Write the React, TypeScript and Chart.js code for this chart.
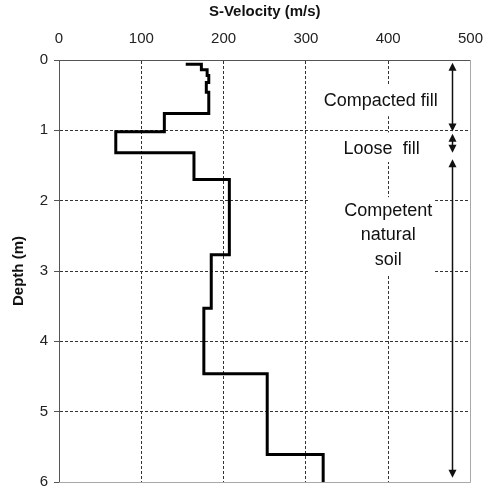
import React, { useEffect, useRef } from "react";
import { Chart, registerables } from "chart.js";

Chart.register(...registerables);

// ---- data ----
const velocityTicks = [0, 100, 200, 300, 400, 500];
const depthTicks = [0, 1, 2, 3, 4, 5, 6];

// S-wave velocity profile (vertices of the stepped line)
const profileVelocity = [154, 173, 173, 180, 180, 182, 182, 179, 179, 182, 182, 128, 128, 69, 69, 164, 164, 207, 207, 185, 185, 176, 176, 253, 253, 321, 321];
const profileDepth = [0.06, 0.06, 0.14, 0.14, 0.22, 0.22, 0.32, 0.32, 0.46, 0.46, 0.76, 0.76, 1.02, 1.02, 1.32, 1.32, 1.70, 1.70, 2.77, 2.77, 3.53, 3.53, 4.46, 4.46, 5.61, 5.61, 6.0];

// soil layers
const layerNames = [["Compacted fill"], ["Loose  fill"], ["Competent", "natural", "soil"]];
const layerTop = [0.04, 1.05, 1.41];
const layerBottom = [1.015, 1.32, 5.94];
const arrowVelocity = 478;

// label anchors (velocity, depth of first baseline)
const labelVelocity = [391, 392, 400];
const labelDepth = [0.654, 1.336, 2.217];

// white boxes behind labels (velocity range, depth range)
const labelBoxes = [
  { v0: 310, v1: 472, d0: 0.35, d1: 0.8 },
  { v0: 340, v1: 455, d0: 1.03, d1: 1.45 },
  { v0: 305, v1: 457, d0: 1.95, d1: 3.05 },
];

const FONT = '"Liberation Sans", Arial, sans-serif';
const W = 495;
const H = 497;

const layerPlugin = {
  id: "layerPlugin",
  afterDatasetsDraw(chart: any) {
    const { ctx, scales } = chart;
    const x = scales.x;
    const y = scales.y;
    ctx.save();

    // right and bottom frame
    const xr = Math.round(x.getPixelForValue(500)) + 0.5;
    const yb = Math.round(y.getPixelForValue(6)) + 0.5;
    const xl = x.getPixelForValue(0);
    const yt = y.getPixelForValue(0);
    ctx.strokeStyle = "#a8a8a8";
    ctx.lineWidth = 1;
    ctx.beginPath();
    ctx.moveTo(xr, yt);
    ctx.lineTo(xr, yb);
    ctx.lineTo(xl, yb);
    ctx.stroke();

    // label boxes
    ctx.fillStyle = "#ffffff";
    labelBoxes.forEach((b) => {
      const px0 = x.getPixelForValue(b.v0);
      const px1 = x.getPixelForValue(b.v1);
      const py0 = y.getPixelForValue(b.d0);
      const py1 = y.getPixelForValue(b.d1);
      ctx.fillRect(px0, py0, px1 - px0, py1 - py0);
    });

    // labels
    ctx.font = `18px ${FONT}`;
    ctx.fillStyle = "#111111";
    ctx.textAlign = "center";
    ctx.textBaseline = "alphabetic";
    layerNames.forEach((lines, i) => {
      const px = x.getPixelForValue(labelVelocity[i]);
      const py = y.getPixelForValue(labelDepth[i]);
      lines.forEach((t, j) => ctx.fillText(t, px, py + j * 24.5));
    });

    // arrows
    const ax = Math.round(x.getPixelForValue(arrowVelocity)) + 0.5;
    const hw = 4;
    const hh = 8;
    ctx.strokeStyle = "#111111";
    ctx.fillStyle = "#111111";
    ctx.lineWidth = 1.5;
    layerTop.forEach((t, i) => {
      const y0 = y.getPixelForValue(t);
      const y1 = y.getPixelForValue(layerBottom[i]);
      ctx.beginPath();
      ctx.moveTo(ax, y0 + hh - 1);
      ctx.lineTo(ax, y1 - hh + 1);
      ctx.stroke();
      ctx.beginPath();
      ctx.moveTo(ax, y0);
      ctx.lineTo(ax - hw, y0 + hh);
      ctx.lineTo(ax + hw, y0 + hh);
      ctx.closePath();
      ctx.fill();
      ctx.beginPath();
      ctx.moveTo(ax, y1);
      ctx.lineTo(ax - hw, y1 - hh);
      ctx.lineTo(ax + hw, y1 - hh);
      ctx.closePath();
      ctx.fill();
    });

    ctx.restore();
  },
};

export default function App() {
  const canvasRef = useRef<HTMLCanvasElement | null>(null);

  useEffect(() => {
    if (!canvasRef.current) return;
    const points = profileVelocity.map((v, i) => ({ x: v, y: profileDepth[i] }));
    const chart = new Chart(canvasRef.current, {
      type: "scatter",
      data: {
        datasets: [
          {
            data: points,
            showLine: true,
            borderColor: "#000000",
            borderWidth: 3,
            borderJoinStyle: "miter",
            borderCapStyle: "butt",
            pointRadius: 0,
            pointHoverRadius: 0,
            fill: false,
          } as any,
        ],
      },
      options: {
        animation: false,
        responsive: false,
        maintainAspectRatio: false,
        devicePixelRatio: 1,
        layout: { padding: { left: 0, top: 0, right: 19, bottom: 11 } },
        plugins: {
          legend: { display: false },
          tooltip: { enabled: false },
        },
        scales: {
          x: {
            type: "linear",
            position: "top",
            min: 0,
            max: 500,
            afterBuildTicks: (s: any) => {
              s.ticks = velocityTicks.map((v) => ({ value: v }));
            },
            afterFit: (s: any) => {
              s.height = 60;
            },
            ticks: {
              padding: 12,
              color: "#222222",
              font: { family: FONT, size: 15 },
            },
            grid: {
              drawTicks: false,
              lineWidth: 1,
              color: (c: any) =>
                c.tick && (c.tick.value === 0 || c.tick.value === 500) ? "rgba(0,0,0,0)" : "#333333",
            },
            border: { display: true, color: "#555555", width: 1, dash: [3, 2] },
            title: {
              display: true,
              text: "S-Velocity (m/s)",
              color: "#111111",
              font: { family: FONT, size: 15, weight: "bold" },
              padding: { top: 3, bottom: 0 },
            },
          },
          y: {
            type: "linear",
            reverse: true,
            min: 0,
            max: 6,
            afterBuildTicks: (s: any) => {
              s.ticks = depthTicks.map((v) => ({ value: v }));
            },
            afterFit: (s: any) => {
              s.width = 59;
            },
            ticks: {
              padding: 6,
              color: "#222222",
              font: { family: FONT, size: 15 },
            },
            grid: {
              drawTicks: true,
              tickLength: 5,
              tickColor: "#555555",
              lineWidth: 1,
              color: (c: any) =>
                c.tick && (c.tick.value === 0 || c.tick.value === 6) ? "rgba(0,0,0,0)" : "#333333",
            },
            border: { display: true, color: "#555555", width: 1, dash: [3, 2] },
            title: {
              display: true,
              text: "Depth (m)",
              color: "#111111",
              font: { family: FONT, size: 15, weight: "bold" },
              padding: { top: 10, bottom: 0 },
            },
          },
        },
      },
      plugins: [layerPlugin],
    });
    return () => chart.destroy();
  }, []);

  return (
    <div style={{ position: "fixed", left: 0, top: 0, width: W, height: H, background: "#ffffff" }}>
      <canvas ref={canvasRef} width={W} height={H} style={{ display: "block", width: W, height: H }} />
    </div>
  );
}
